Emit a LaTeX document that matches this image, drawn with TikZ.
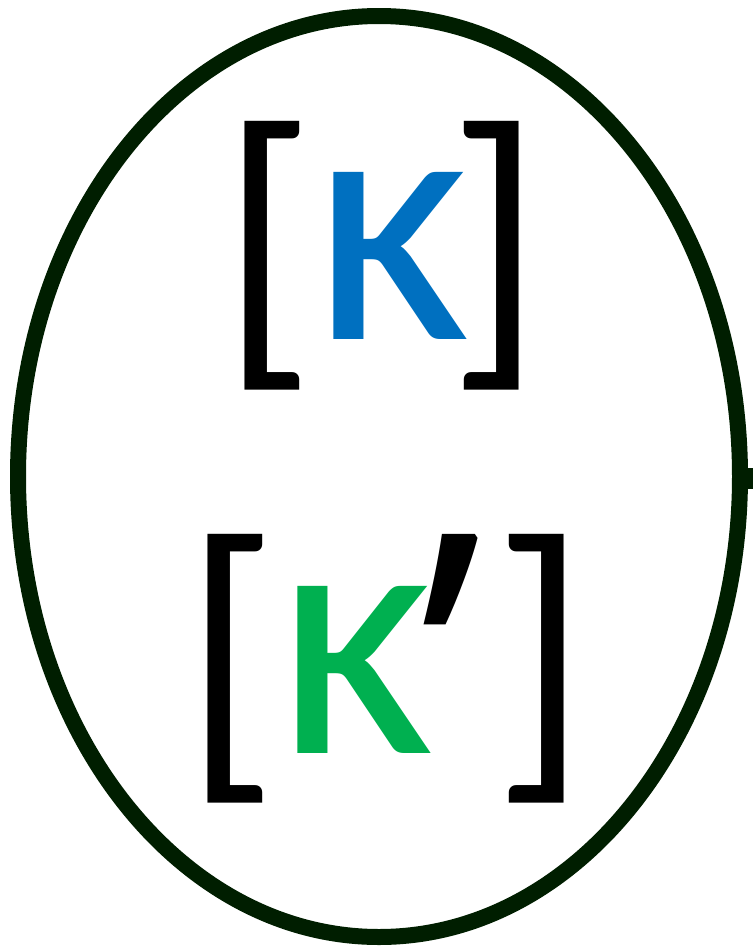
\documentclass[tikz,border=0pt]{standalone}
\usepackage{fontspec}
\setmainfont{Carlito}
\newfontfamily\prmfont{Open Sans}
\definecolor{ringgreen}{RGB}{0,30,0}
\definecolor{kblue}{RGB}{0,112,192}
\definecolor{kgreen}{RGB}{0,176,80}
\tikzset{
  brk/.style={inner sep=0pt, font=\fontsize{313}{340}\selectfont},
  kap/.style={inner sep=0pt, font=\fontsize{350}{380}\selectfont},
  prm/.style={inner sep=0pt, anchor=north, font=\prmfont\fontsize{370}{400}\selectfont}
}
\begin{document}
\begin{tikzpicture}[x=1pt,y=-1pt]
\useasboundingbox (0,0) rectangle (753,948);
\draw[ringgreen, line width=16pt] (379,476.5) ellipse [x radius=361, y radius=460.5];
\fill[ringgreen] (746,468) rectangle (753,489);
\node[brk] (tl) at (268.5,256) {[};
\node[kap, text=kblue] (tk) at (392.5,256) {κ};
\node[brk] (tr) at (495.5,256) {]};
\node[brk] (bl) at (231.5,669) {[};
\node[kap, text=kgreen] (bk) at (356,670) {κ};
\node[prm] (bp) at (451,534) {’};
\node[brk] (br) at (540.5,669) {]};
\end{tikzpicture}
\end{document}
